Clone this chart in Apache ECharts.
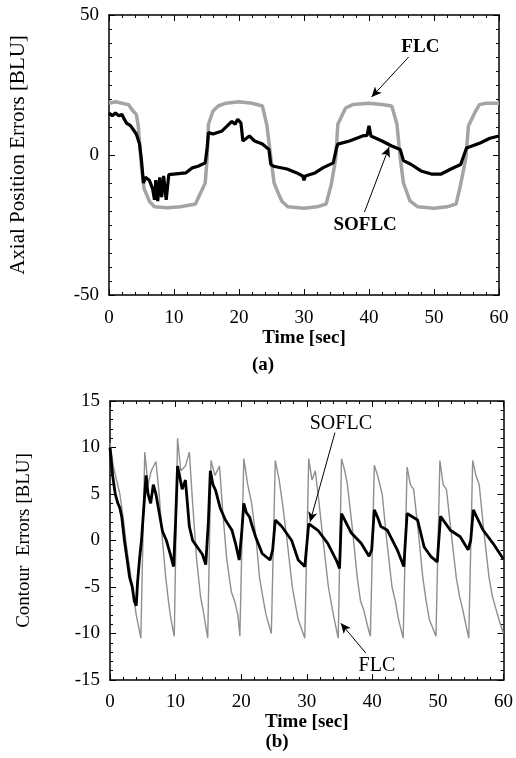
<!DOCTYPE html>
<html><head><meta charset="utf-8">
<script src="https://cdn.jsdelivr.net/npm/echarts@6/dist/echarts.min.js"></script>
<style>html,body{margin:0;padding:0;background:#fff}#c{width:516px;height:758px}</style>
</head><body><div id="c"></div>
<script>
// ---- axis ranges [min, max, interval]
const timeRange = [0, 60, 10];
const axialRange = [-50, 50, 50];
const contourRange = [-15, 15, 5];

// ---- (a) Axial position errors [t, value]
const flcAxial = [[0,18.5],[1,19],[2,18.5],[3,18],[3.6,16],[4.2,14.5],[4.5,10.5],[5,-4.5],[5.4,-12],[6.2,-16.5],[7,-18.5],[9,-18.8],[11,-18.5],[13.3,-17.5],[13.8,-15],[14.8,-10],[15.1,-1],[15.3,11],[16,15.7],[16.8,17.5],[18,18.5],[20,19],[22,18.5],[23.6,17.5],[24.3,10.5],[24.9,-1],[25.4,-10],[26.1,-14],[26.6,-16.5],[27.5,-18.5],[30,-19],[32,-18.5],[33.4,-17.5],[34.2,-10.5],[34.9,-1],[35.2,11],[36.4,16.8],[37.5,18],[40,18.5],[42,18],[43.5,17.5],[44.3,11],[44.8,-1],[45.3,-10],[46.3,-16.4],[47.5,-18.5],[50,-19],[52,-18.5],[53.4,-17.5],[54.1,-10.5],[54.9,-1],[55.3,10.4],[56.4,15.7],[57,18],[58,18.5],[60,18.5]];
const soflcAxial = [[0,15],[0.5,14],[1,15],[1.5,14],[2,14.5],[2.3,13],[2.7,11.4],[3.3,10.5],[3.6,11],[4.2,7.5],[4.7,3.9],[5,-2],[5.3,-10],[5.6,-8],[6.2,-9],[6.7,-12],[7,-16],[7.2,-9],[7.5,-16.5],[7.8,-8],[8.1,-15],[8.4,-7.5],[8.8,-16],[9.2,-7],[9.5,-6.4],[11.8,-6.4],[12.8,-4.6],[13.7,-4],[14.8,-2.8],[15.1,2.5],[15.3,8],[16,7.5],[17.4,8.6],[18.9,12],[19.4,11],[19.8,12.8],[20.3,11.4],[20.6,5],[21.6,6.8],[22.4,5],[23.6,3.9],[24.6,2],[24.9,-3.4],[25.3,-4],[27.4,-5],[28.9,-6.4],[29.8,-7.5],[30,-9],[30.2,-7.5],[31.7,-6.4],[32.9,-4.6],[34.5,-2.8],[35,2.5],[35.2,3.9],[37,5],[39,6.8],[39.7,7],[40,10.4],[40.3,6.8],[42,5],[43.5,3.2],[44.8,2],[45.3,-2],[46.5,-3.4],[48,-5.7],[49.6,-6.8],[51.1,-6.8],[52.6,-5],[54.1,-3.4],[55,2.5],[55.3,3.2],[57.1,4.3],[58.6,6],[60,6.8]];

// ---- (b) Contour errors [t, value]
const flcContour = [[0,10.5],[0.5,8],[1,6.5],[1.5,5],[2,2.5],[2.5,-0.5],[3,-3],[3.5,-5.5],[4,-8],[4.7,-10.5],
[5.3,9.5],[5.8,6],[6.3,7.5],[7,8.5],[7.5,5],[8,0],[8.5,-4],[9,-7],[9.3,-8.5],[9.8,-10.3],
[10.3,11],[10.8,7.5],[11.5,8],[12.1,9.5],[12.6,4],[13.2,-2],[13.8,-6],[14.2,-7.5],[14.9,-10.5],
[15.4,8.6],[16,7],[16.7,8],[17.2,3],[17.8,-2],[18.5,-5.5],[19,-6.5],[19.5,-8],[19.8,-10.3],
[20.4,8.8],[21,6],[21.6,4],[22.3,0],[22.8,-4],[23.4,-6.5],[23.8,-8],[24.6,-10],
[25.2,8.6],[25.8,6.5],[26.3,4],[27,0],[27.8,-5],[28.3,-7],[28.7,-8.5],[29.7,-10.5],
[30.3,8.8],[30.8,6.5],[31.3,7.5],[31.8,4.5],[32.5,0],[33.3,-5],[33.8,-7],[34.2,-8.5],[34.8,-10.5],
[35.3,8.8],[35.8,7.5],[36.2,6],[37,1],[37.7,-4],[38.2,-6.5],[38.7,-7.5],[39.2,-9],[39.7,-10.3],
[40.3,8.1],[40.8,7],[41.5,5],[42.2,0],[43,-5],[43.5,-6.5],[44,-8.5],[44.7,-10.5],
[45.3,7.9],[45.8,6],[46.3,5.5],[47,1],[47.7,-4],[48.2,-6.5],[48.7,-8.5],[49.7,-10.3],
[50.3,8.6],[50.8,6],[51.3,5.5],[52,1],[52.8,-4],[53.3,-6],[53.8,-7.5],[54.7,-10.5],
[55.3,8.6],[55.8,7],[56.3,6],[57,1],[57.8,-4],[58.3,-6],[58.7,-7],[59.3,-8.5],[60,-10]];
const soflcContour = [[0,10],[0.4,7],[0.8,5],[1.2,4],[1.5,3.5],[1.8,2.5],[2.2,0],[2.6,-2],[3,-4],[3.4,-5],[3.7,-6.5],[4,-7],[4.2,-4.5],[4.5,-2],[4.8,0],[5.2,4],[5.5,7],[5.8,5],[6.2,4],[6.6,6],[7,5],[7.5,3],[8,1],[8.6,0],[9.2,-1.5],[9.7,-2.8],[10,2],[10.3,8],[10.6,7],[11,5.5],[11.5,6.5],[12.1,1.5],[12.6,0],[13.1,-0.5],[13.6,-1],[14.1,-1.5],[14.6,-2.6],[15,2],[15.3,7.5],[15.7,6],[16.1,5.4],[16.8,3.5],[17.6,2.2],[18.6,1.1],[19.2,-0.5],[19.7,-2.1],[20.1,1],[20.4,4],[20.8,3],[21.3,2.5],[21.7,1.5],[22.2,0.4],[23.2,-1.4],[24.4,-2.1],[24.8,-1],[25.2,2.2],[26.2,1.5],[27.7,0],[28.7,-2.1],[29.7,-2.8],[30.3,1.8],[31.7,1.1],[33.2,-0.3],[34.5,-2.1],[35,-3],[35.3,2.9],[36.8,0.8],[38.3,-0.3],[39.5,-1.7],[39.9,-1],[40.3,3.3],[40.8,2.5],[41.3,1.5],[42.3,1.1],[43.8,-1],[44.8,-2.8],[45.3,2.9],[46.9,2.2],[47.9,-0.7],[48.9,-1.7],[49.9,-2.3],[50.4,2.6],[51.9,1.1],[53.4,0.4],[54.6,-1],[55,0],[55.4,3.3],[56.9,1.1],[58.4,-0.3],[59.7,-1.7],[60,-2]];

const F = '"Liberation Serif","Times New Roman",serif';
const chart = echarts.init(document.getElementById('c'), null, {renderer:'canvas'});

function axis(dim, gridIndex, position, range, minorSplit, showLabel, name, nameGap, labelMargin, nameSize) {
  return {
    type:'value', gridIndex, position,
    min:range[0], max:range[1], interval:range[2],
    axisLine:{show:true, onZero:false, lineStyle:{color:'#000', width:1.5}},
    axisTick:{show:true, inside:true, length:6, lineStyle:{color:'#000', width:1}},
    minorTick:{show:true, splitNumber:minorSplit, length:3, lineStyle:{color:'#000', width:1}},
    splitLine:{show:false}, minorSplitLine:{show:false},
    axisLabel:{show:showLabel, margin:labelMargin, color:'#000', fontFamily:F, fontSize:19},
    name: name || '', nameLocation:'middle', nameGap: nameGap || 0,
    nameTextStyle:{color:'#000', fontFamily:F, fontSize:nameSize || 20,
      fontWeight: dim === 'x' ? 'bold' : 'normal'}
  };
}

const arrowStyle = {color:'#000', width:1, type:'solid'};
function arrow(from, to) { return [{coord:from}, {coord:to}]; }

const option = {
  animation:false,
  backgroundColor:'#fff',
  grid:[
    {left:102, top:15, width:397, height:280},
    {left:110, top:401, width:397, height:279}
  ],
  xAxis:[
    axis('x', 0, 'bottom', timeRange, 5, true, 'Time [sec]', 27, 14, 19),
    axis('x', 0, 'top', timeRange, 5, false),
    axis('x', 1, 'bottom', timeRange, 5, true, 'Time [sec]', 30, 13, 19),
    axis('x', 1, 'top', timeRange, 5, false)
  ],
  yAxis:[
    axis('y', 0, 'left', axialRange, 10, true, 'Axial Position Errors [BLU]', 80, 10, 21),
    axis('y', 0, 'right', axialRange, 10, false),
    axis('y', 1, 'left', contourRange, 5, true, 'Contour  Errors [BLU]', 76, 10, 19),
    axis('y', 1, 'right', contourRange, 5, false)
  ],
  graphic:[
    {type:'text', x:263, y:365, style:{text:'(a)', fill:'#000', font:'bold 19px '+F, textAlign:'center', textVerticalAlign:'middle'}},
    {type:'text', x:277, y:742, style:{text:'(b)', fill:'#000', font:'bold 19px '+F, textAlign:'center', textVerticalAlign:'middle'}}
  ],
  series:[
    {type:'line', xAxisIndex:0, yAxisIndex:0, data:flcAxial, showSymbol:false, symbol:'none',
      lineStyle:{color:'#a4a4a4', width:3.5}, z:2,
      markLine:{silent:true, symbol:['none','arrow'], symbolSize:[7,10], lineStyle:arrowStyle, label:{show:false},
        data:[arrow([46.1,35],[40.4,20.7])]},
      markPoint:{symbol:'circle', symbolSize:1, itemStyle:{color:'rgba(0,0,0,0)'},
        label:{show:true, position:'inside', formatter:'FLC', color:'#000', fontFamily:F, fontSize:19, fontWeight:'bold'},
        data:[{coord:[47.9,38.6]}]}
    },
    {type:'line', xAxisIndex:0, yAxisIndex:0, data:soflcAxial, showSymbol:false, symbol:'none',
      lineStyle:{color:'#000', width:3.2}, z:3,
      markLine:{silent:true, symbol:['none','arrow'], symbolSize:[7,10], lineStyle:arrowStyle, label:{show:false},
        data:[arrow([39.3,-20.4],[43.1,2.9])]},
      markPoint:{symbol:'circle', symbolSize:1, itemStyle:{color:'rgba(0,0,0,0)'},
        label:{show:true, position:'inside', formatter:'SOFLC', color:'#000', fontFamily:F, fontSize:19, fontWeight:'bold'},
        data:[{coord:[39.4,-25]}]}
    },
    {type:'line', xAxisIndex:2, yAxisIndex:2, data:flcContour, showSymbol:false, symbol:'none',
      lineStyle:{color:'#8f8f8f', width:1.4}, z:2,
      markLine:{silent:true, symbol:['none','arrow'], symbolSize:[7,10], lineStyle:arrowStyle, label:{show:false},
        data:[arrow([39,-12.1],[35.2,-8.9])]},
      markPoint:{symbol:'circle', symbolSize:1, itemStyle:{color:'rgba(0,0,0,0)'},
        label:{show:true, position:'inside', formatter:'FLC', color:'#000', fontFamily:F, fontSize:20},
        data:[{coord:[40.7,-13.5]}]}
    },
    {type:'line', xAxisIndex:2, yAxisIndex:2, data:soflcContour, showSymbol:false, symbol:'none',
      lineStyle:{color:'#000', width:2.8}, z:3,
      markLine:{silent:true, symbol:['none','arrow'], symbolSize:[7,10], lineStyle:arrowStyle, label:{show:false},
        data:[arrow([34.3,11.6],[30.5,2.0])]},
      markPoint:{symbol:'circle', symbolSize:1, itemStyle:{color:'rgba(0,0,0,0)'},
        label:{show:true, position:'inside', formatter:'SOFLC', color:'#000', fontFamily:F, fontSize:20},
        data:[{coord:[35.2,12.6]}]}
    }
  ]
};
chart.setOption(option);
</script></body></html>
